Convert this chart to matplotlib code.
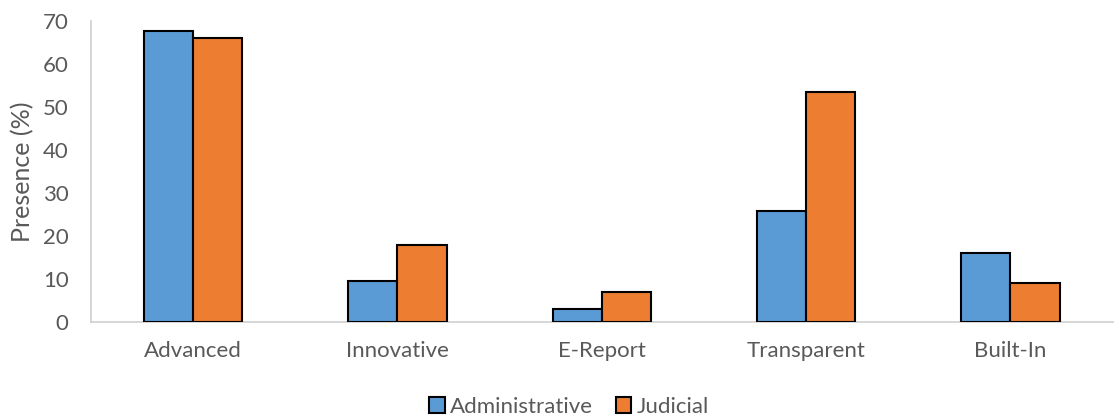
import numpy as np
import matplotlib
matplotlib.use("Agg")
import matplotlib.pyplot as plt

categories = ["Advanced", "Innovative", "E-Report", "Transparent", "Built-In"]
administrative = [67.7, 9.6, 3.1, 25.7, 16.1]
judicial = [66.1, 17.9, 7.0, 53.6, 9.0]
series_names = ["Administrative", "Judicial"]

plt.rcParams['font.family'] = ['Lato', 'DejaVu Sans']
txt = '#595959'

fig = plt.figure(figsize=(11.16, 4.16), dpi=100)
ax = fig.add_axes([0.0815, 0.226, 0.9155, 0.7235])

x = np.arange(len(categories))
w = 0.24
ax.bar(x - w/2, administrative, w, color='#5B9BD5', edgecolor='black', linewidth=1.5,
       label=series_names[0], zorder=3)
ax.bar(x + w/2, judicial, w, color='#ED7D31', edgecolor='black', linewidth=1.5,
       label=series_names[1], zorder=3)

ax.set_xlim(-0.5, len(categories) - 0.5)
ax.set_ylim(0, 70)
ax.set_yticks(range(0, 71, 10))
ax.set_xticks(x)
ax.set_xticklabels(categories)
ax.tick_params(axis='both', length=0, labelsize=16, colors=txt)
ax.tick_params(axis='x', pad=14)
ax.tick_params(axis='y', pad=16)
ax.set_ylabel("Presence (%)", fontsize=18, color=txt, labelpad=6)

for s in ['top', 'right']:
    ax.spines[s].set_visible(False)
for s in ['left', 'bottom']:
    ax.spines[s].set_color('#d0d0d0')
    ax.spines[s].set_linewidth(1.2)

leg = ax.legend(loc='lower center', bbox_to_anchor=(0.468, -0.36), ncol=2, frameon=False,
                fontsize=16, handlelength=0.7, handleheight=0.7, handletextpad=0.25,
                columnspacing=1.0, borderpad=0.1)
for t in leg.get_texts():
    t.set_color(txt)

fig.savefig("out.png", dpi=100)
